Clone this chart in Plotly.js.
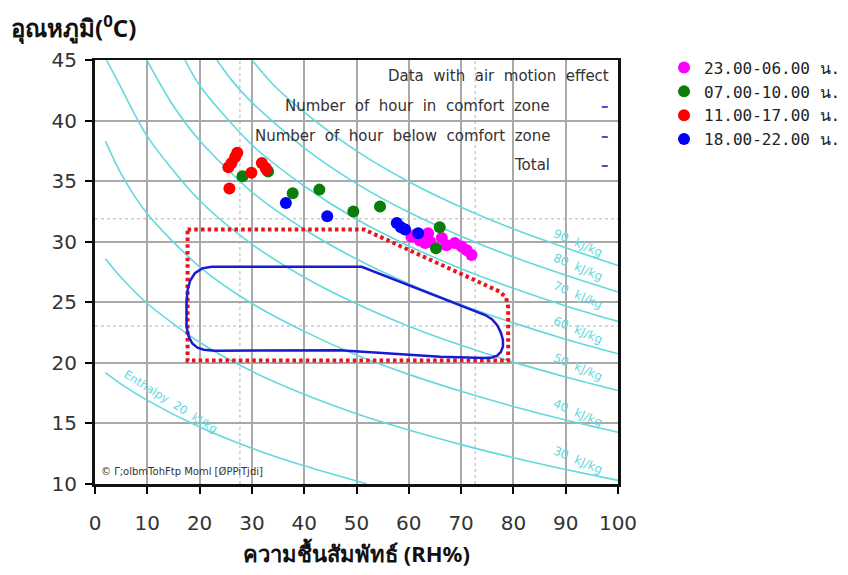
<!DOCTYPE html>
<html>
<head>
<meta charset="utf-8">
<script src="https://cdn.plot.ly/plotly-3.0.1.min.js"></script>
<style>html,body{margin:0;padding:0;background:#fff;}#chart{width:848px;height:575px;}</style>
</head>
<body>
<div id="chart"></div>
<script>
// ---- series (RH %, temperature °C) ----
const seriesNames = ['23.00-06.00 น.', '07.00-10.00 น.', '11.00-17.00 น.', '18.00-22.00 น.'];
const magentaRH = [60.5, 61.2, 62.1, 63.1, 63.7, 64.1, 66.3, 67.2, 68.8, 70.1, 71.1, 72.0];
const magentaT  = [30.4, 30.55, 30.1, 29.9, 30.7, 30.0, 30.3, 29.7, 29.9, 29.6, 29.3, 28.9];
const greenRH = [28.2, 33.1, 37.8, 42.9, 49.4, 54.5, 65.9, 65.2];
const greenT  = [35.4, 35.8, 34.0, 34.3, 32.5, 32.9, 31.2, 29.45];
const redRH = [25.7, 25.5, 26.1, 26.8, 27.2, 29.9, 31.9, 32.6, 32.8];
const redT  = [34.4, 36.15, 36.5, 37.0, 37.35, 35.7, 36.5, 36.1, 35.95];
const blueRH = [36.5, 44.4, 57.7, 58.5, 59.3, 61.8];
const blueT  = [33.2, 32.1, 31.55, 31.2, 31.0, 30.7];

// ---- comfort zones ----
const zoneAirRH = [17.7, 51.5, 77.3, 78.6, 79.0, 79.0, 17.7, 17.7];
const zoneAirT  = [31.0, 31.0, 25.9, 25.4, 24.6, 20.2, 20.2, 31.0];
const zoneRH = [22.3, 51.0, 74.6, 75.9, 76.9, 77.6, 78.0, 78.0, 77.6, 76.9, 75.9, 74.6, 66.0, 46.8, 22.9, 20.8, 19.6, 18.6, 17.9, 17.5, 17.5, 17.7, 18.2, 19.1, 20.5, 22.3];
const zoneT  = [27.93, 27.93, 23.95, 23.6, 23.1, 22.5, 21.9, 21.35, 20.9, 20.6, 20.45, 20.4, 20.5, 21.05, 21.0, 21.08, 21.25, 21.6, 22.2, 23.0, 25.0, 26.0, 26.8, 27.4, 27.8, 27.93];

// ---- enthalpy lines (kJ/kg) ----
const h20RH = [2, 5, 10, 20, 30, 40, 52];
const h20T  = [19.2, 18.25, 16.9, 14.7, 12.95, 11.5, 10.0];
const h30RH = [2, 5, 10, 20, 30, 40, 50, 60, 70, 80, 90, 100];
const h30T  = [28.6, 27.04, 24.9, 21.7, 19.3, 17.4, 15.8, 14.45, 13.25, 12.17, 11.2, 10.3];
const h40RH = [2, 5, 10, 20, 30, 40, 50, 60, 70, 80, 90, 100];
const h40T  = [38.3, 35.6, 32.3, 27.93, 24.9, 22.6, 20.65, 19.05, 17.65, 16.4, 15.28, 14.27];
const h50RH = [2.2, 5, 10, 20, 30, 40, 50, 60, 70, 80, 90, 100];
const h50T  = [45, 42.7, 38.7, 33.4, 29.8, 27.07, 24.88, 23.03, 21.45, 20.06, 18.84, 17.72];
const h60RH = [9.9, 15, 20, 30, 40, 50, 60, 70, 80, 90, 100];
const h60T  = [45, 41.2, 38.35, 34.1, 31.03, 28.57, 26.53, 24.8, 23.3, 21.95, 20.75];
const h70RH = [17.2, 20, 30, 40, 50, 60, 70, 80, 90, 100];
const h70T  = [45, 42.9, 38.0, 34.6, 31.85, 29.65, 27.77, 26.15, 24.7, 23.42];
const h80RH = [23.3, 26, 30, 40, 50, 60, 70, 80, 90, 100];
const h80T  = [45, 43.4, 41.5, 37.75, 34.8, 32.43, 30.46, 28.73, 27.23, 25.85];
const h90RH = [30.0, 34, 40, 50, 60, 70, 80, 90, 100];
const h90T  = [45, 43.0, 40.7, 37.5, 34.95, 32.85, 31.05, 29.5, 28.03];

const enthalpyLabels = ['90 kJ/kg', '80 kJ/kg', '70 kJ/kg', '60 kJ/kg', '50 kJ/kg', '40 kJ/kg', '30 kJ/kg'];
const enthalpyLabelT = [29.9, 27.9, 25.6, 22.7, 19.65, 15.9, 11.97];

const tableRows = ['Data  with  air  motion  effect', 'Number  of  hour  in  comfort  zone', 'Number  of  hour  below  comfort  zone', 'Total'];
const tableValues = ['', '–', '–', '–'];

const xTicks = [0, 10, 20, 30, 40, 50, 60, 70, 80, 90, 100];
const yTicks = [10, 15, 20, 25, 30, 35, 40, 45];
const guideX = [27.7, 72.7];
const guideY = [31.9, 23.05];

const nb = function(s){ return s.replace(/ /g, '\u00a0'); };
const CYAN = '#62d9de';
const traces = [];
[[h20RH,h20T],[h30RH,h30T],[h40RH,h40T],[h50RH,h50T],[h60RH,h60T],[h70RH,h70T],[h80RH,h80T],[h90RH,h90T]].forEach(function(p){
  traces.push({x:p[0], y:p[1], type:'scatter', mode:'lines', line:{color:CYAN, width:1.6, shape:'spline', smoothing:0.8}, showlegend:false, hoverinfo:'skip'});
});
traces.push({x:zoneAirRH, y:zoneAirT, type:'scatter', mode:'lines', line:{color:'#e8141c', width:4, dash:'3.5px,3.2px'}, showlegend:false, hoverinfo:'skip'});
traces.push({x:zoneRH, y:zoneT, type:'scatter', mode:'lines', line:{color:'#1a1ad2', width:2.5}, showlegend:false, hoverinfo:'skip'});

const pts = [
  {x:magentaRH, y:magentaT, c:'#ff00ff', n:0},
  {x:greenRH, y:greenT, c:'#0a7d0a', n:1},
  {x:redRH, y:redT, c:'#ff0000', n:2},
  {x:blueRH, y:blueT, c:'#0000ff', n:3}
];
pts.forEach(function(s){
  traces.push({x:s.x, y:s.y, type:'scatter', mode:'markers', name:seriesNames[s.n],
    marker:{color:s.c, size:12, symbol:'circle', line:{width:0}}});
});

const shapes = [];
guideX.forEach(function(v){ shapes.push({type:'line', xref:'x', yref:'paper', x0:v, x1:v, y0:0, y1:1, layer:'below', line:{color:'#cccccc', width:1.5, dash:'dot'}}); });
guideY.forEach(function(v){ shapes.push({type:'line', xref:'paper', yref:'y', x0:0, x1:1, y0:v, y1:v, layer:'below', line:{color:'#cccccc', width:1.5, dash:'dot'}}); });

const annotations = [];
annotations.push({xref:'paper', yref:'paper', x:-0.165, y:1.078, xanchor:'left', yanchor:'middle', showarrow:false,
  text:'<b>อุณหภูมิ(<sup>0</sup>C)</b>', font:{family:'Noto Sans, Liberation Sans, sans-serif', size:24, color:'#111'}});
const rowY = [0.962, 0.892, 0.820, 0.752];
tableRows.forEach(function(t, i){
  annotations.push({xref:'paper', yref:'paper', x: i===0 ? 0.987 : 0.874, y:rowY[i], xanchor:'right', yanchor:'middle', showarrow:false,
    text:nb(t), font:{family:'DejaVu Sans, sans-serif', size:15, color:'#333'}});
  if (tableValues[i]) annotations.push({xref:'paper', yref:'paper', x:0.976, y:rowY[i], xanchor:'center', yanchor:'middle', showarrow:false,
    text:'<b>'+tableValues[i]+'</b>', font:{family:'DejaVu Sans, sans-serif', size:15, color:'#4a4ad0'}});
});
enthalpyLabels.forEach(function(t, i){
  annotations.push({xref:'x', yref:'y', x:92.3, y:enthalpyLabelT[i], showarrow:false, textangle:23,
    text:nb(t.replace(' ', '  ')), font:{family:'DejaVu Sans, sans-serif', size:12, color:CYAN}});
});
annotations.push({xref:'x', yref:'y', x:14.6, y:16.8, showarrow:false, textangle:32,
  text:nb('Enthalpy  20  kJ/kg'), font:{family:'DejaVu Sans, sans-serif', size:11.5, color:CYAN}});
annotations.push({xref:'paper', yref:'paper', x:0.008, y:0.012, xanchor:'left', yanchor:'bottom', showarrow:false,
  text:'© Γ;olbmTohFtp Moml [ØPPiTjdi]', font:{family:'DejaVu Sans, sans-serif', size:10, color:'#333'}});

const layout = {
  width:848, height:575,
  margin:{l:95, r:230, t:60, b:91, autoexpand:false},
  paper_bgcolor:'#ffffff', plot_bgcolor:'#ffffff',
  font:{family:'DejaVu Sans, Liberation Sans, sans-serif', color:'#222'},
  xaxis:{range:[0,100], tickvals:xTicks, ticktext:xTicks.map(String), showgrid:true, gridcolor:'#a9a9a9', gridwidth:2,
    ticks:'outside', ticklen:7, tickwidth:2, tickcolor:'#000', showline:true, linecolor:'#111', linewidth:2.5, mirror:true,
    zeroline:false, tickfont:{family:'DejaVu Sans, sans-serif', size:20, color:'#333'}, ticklabelstandoff:12,
    title:{text:'<b>ความชื้นสัมพัทธ์ (RH%)</b>', font:{family:'Noto Sans, Liberation Sans, sans-serif', size:22, color:'#111'}, standoff:13}},
  yaxis:{range:[10,45], tickvals:yTicks, ticktext:yTicks.map(String), showgrid:true, gridcolor:'#a9a9a9', gridwidth:2,
    ticks:'outside', ticklen:7, tickwidth:2, tickcolor:'#000', showline:true, linecolor:'#111', linewidth:3, mirror:true,
    zeroline:false, tickfont:{family:'DejaVu Sans, sans-serif', size:20, color:'#333'}, ticklabelstandoff:4},
  legend:{x:1.088, y:1.022, xanchor:'left', yanchor:'top', font:{family:'DejaVu Sans Mono, monospace', size:16, color:'#222'},
    bgcolor:'rgba(0,0,0,0)', itemwidth:30, tracegroupgap:0},
  showlegend:true,
  shapes:shapes,
  annotations:annotations
};
Plotly.newPlot('chart', traces, layout, {staticPlot:true, displayModeBar:false});
</script>
</body>
</html>
